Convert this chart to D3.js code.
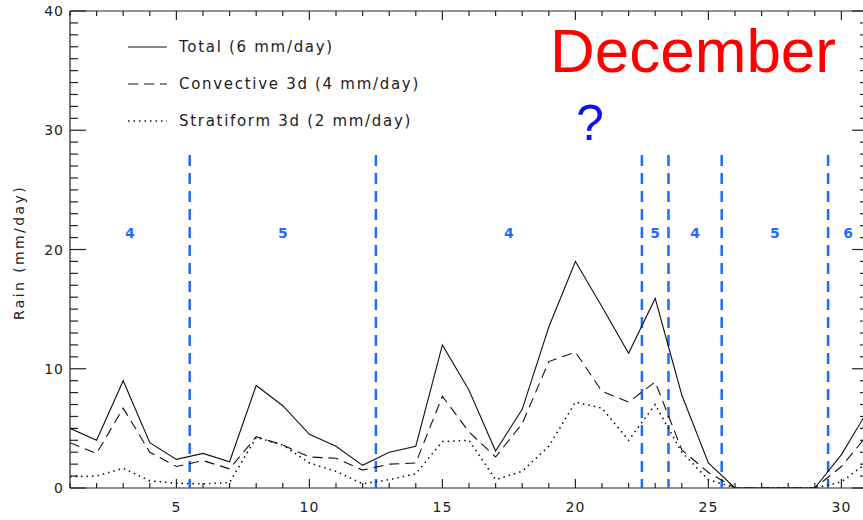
<!DOCTYPE html>
<html>
<head>
<meta charset="utf-8">
<script src="https://cdn.jsdelivr.net/npm/d3@7"></script>
<style>
  body { margin: 0; background: #fff; }
  svg { display: block; font-family: "DejaVu Sans", sans-serif; }
</style>
</head>
<body>
<svg id="chart"></svg>
<script>
const width = 863;
const height = 520;

// days of December
const days = d3.range(1, 32);
const total = [5.0, 4.0, 9.0, 3.8, 2.4, 2.9, 2.2, 8.6, 6.9, 4.5, 3.5, 1.9, 3.0, 3.5, 12.0,
  8.2, 3.1, 6.6, 13.5, 19.0, 15.2, 11.3, 15.9, 7.8, 2.1, 0, 0, 0, 0, 2.8, 6.5];
const convective = [3.8, 2.9, 6.7, 3.0, 1.8, 2.3, 1.6, 4.3, 3.6, 2.6, 2.5, 1.5, 2.0, 2.1, 7.7,
  4.7, 2.6, 5.4, 10.6, 11.4, 8.1, 7.2, 8.9, 3.2, 1.3, 0, 0, 0, 0, 1.8, 4.5];
const stratiform = [0.95, 1.0, 1.65, 0.6, 0.4, 0.35, 0.45, 4.25, 3.6, 2.1, 1.4, 0.35, 0.7, 1.2, 3.9,
  4.0, 0.7, 1.4, 3.5, 7.2, 6.7, 4.0, 7.0, 3.0, 0.7, 0, 0, 0, 0, 0.5, 2.2];

const legendLabels = ["Total (6 mm/day)", "Convective 3d (4 mm/day)", "Stratiform 3d (2 mm/day)"];
const dashes = [null, "10,6", "1.5,4"];

// regime boundaries and phase labels
const boundaries = [5.5, 12.5, 22.5, 23.5, 25.5, 29.5];
const phases = ["4", "5", "4", "5", "4", "5", "6"];

const margin = { left: 70, top: 11, bottom: 32 };

const svg = d3.select("#chart")
    .attr("width", width)
    .attr("height", height);

const x = d3.scaleLinear().domain([1, 31]).range([margin.left, 868]);
const y = d3.scaleLinear().domain([0, 40]).range([height - margin.bottom, margin.top]);

const axisColor = "#222";

// axes
const xMinor = d3.range(1, 32);
const xMajor = [5, 10, 15, 20, 25, 30];
const yMinor = d3.range(0, 41);
const yMajor = [0, 10, 20, 30, 40];

const axes = svg.append("g").attr("stroke", axisColor).attr("stroke-width", 1.2);

// frame
axes.append("line").attr("x1", x(1)).attr("x2", x(31)).attr("y1", y(0)).attr("y2", y(0));
axes.append("line").attr("x1", x(1)).attr("x2", x(31)).attr("y1", y(40)).attr("y2", y(40));
axes.append("line").attr("x1", x(1)).attr("x2", x(1)).attr("y1", y(0)).attr("y2", y(40));
axes.append("line").attr("x1", x(31)).attr("x2", x(31)).attr("y1", y(0)).attr("y2", y(40));

// x ticks bottom and top
xMinor.forEach(d => {
  const len = xMajor.includes(d) ? 9 : 5;
  axes.append("line").attr("x1", x(d)).attr("x2", x(d)).attr("y1", y(0)).attr("y2", y(0) - len);
  axes.append("line").attr("x1", x(d)).attr("x2", x(d)).attr("y1", y(40)).attr("y2", y(40) + len);
});
// y ticks left and right
yMinor.forEach(v => {
  const len = yMajor.includes(v) ? 16 : 8;
  axes.append("line").attr("x1", x(1)).attr("x2", x(1) + len).attr("y1", y(v)).attr("y2", y(v));
  axes.append("line").attr("x1", x(31)).attr("x2", x(31) - len).attr("y1", y(v)).attr("y2", y(v));
});

svg.append("g").selectAll("text")
    .data(xMajor)
    .join("text")
    .attr("x", d => x(d))
    .attr("y", y(0) + 24)
    .attr("text-anchor", "middle")
    .attr("font-size", 14)
    .attr("letter-spacing", 1)
    .attr("fill", axisColor)
    .text(d => d);

svg.append("g").selectAll("text")
    .data(yMajor)
    .join("text")
    .attr("x", x(1) - 6)
    .attr("y", d => y(d) + 5)
    .attr("text-anchor", "end")
    .attr("font-size", 14)
    .attr("letter-spacing", 1)
    .attr("fill", axisColor)
    .text(d => d);

svg.append("text")
    .attr("transform", `translate(24, ${y(20) + 3}) rotate(-90)`)
    .attr("text-anchor", "middle")
    .attr("font-size", 14)
    .attr("letter-spacing", 2.4)
    .attr("fill", axisColor)
    .text("Rain (mm/day)");

// regime boundaries
const blue = "#1f6bff";
svg.append("g").selectAll("line")
    .data(boundaries)
    .join("line")
    .attr("x1", d => x(d))
    .attr("x2", d => x(d))
    .attr("y1", 155)
    .attr("y2", y(0))
    .attr("stroke", blue)
    .attr("stroke-width", 2.5)
    .attr("stroke-dasharray", "11,7");

const edges = [1, ...boundaries, 31];
svg.append("g").selectAll("text")
    .data(phases)
    .join("text")
    .attr("x", (d, i) => x((edges[i] + edges[i + 1]) / 2))
    .attr("y", 238)
    .attr("text-anchor", "middle")
    .attr("font-size", 14)
    .attr("font-weight", "bold")
    .attr("fill", blue)
    .text(d => d);

// series lines
svg.append("clipPath").attr("id", "clip")
  .append("rect").attr("x", x(1)).attr("y", y(40)).attr("width", x(31) - x(1)).attr("height", y(0) - y(40));

const line = d3.line().x((d, i) => x(days[i])).y(d => y(d));
const series = [total, convective, stratiform];

svg.append("g").attr("clip-path", "url(#clip)")
  .selectAll("path")
  .data(series)
  .join("path")
  .attr("d", d => line(d))
  .attr("fill", "none")
  .attr("stroke", "#111")
  .attr("stroke-width", (d, i) => i === 2 ? 1.6 : 1.1)
  .attr("stroke-dasharray", (d, i) => dashes[i]);

// legend
const legend = svg.append("g");
legendLabels.forEach((t, i) => {
  const ly = 47 + i * 37;
  legend.append("line")
      .attr("x1", 128).attr("x2", 167)
      .attr("y1", ly).attr("y2", ly)
      .attr("stroke", "#111")
      .attr("stroke-width", i === 2 ? 1.6 : 1.1)
      .attr("stroke-dasharray", dashes[i]);
  legend.append("text")
      .attr("x", 179).attr("y", ly + 5)
      .attr("font-size", 15)
      .attr("letter-spacing", 1.7)
      .attr("fill", axisColor)
      .text(t);
});

// annotations
svg.append("text")
    .attr("x", 550).attr("y", 72)
    .attr("font-family", "'Liberation Sans', Arial, sans-serif")
    .attr("font-size", 62)
    .attr("fill", "#ff0000")
    .text("December");

svg.append("text")
    .attr("x", 590).attr("y", 140)
    .attr("text-anchor", "middle")
    .attr("font-family", "'Liberation Sans', Arial, sans-serif")
    .attr("font-size", 50)
    .attr("fill", "#0a10f0")
    .text("?");
</script>
</body>
</html>
